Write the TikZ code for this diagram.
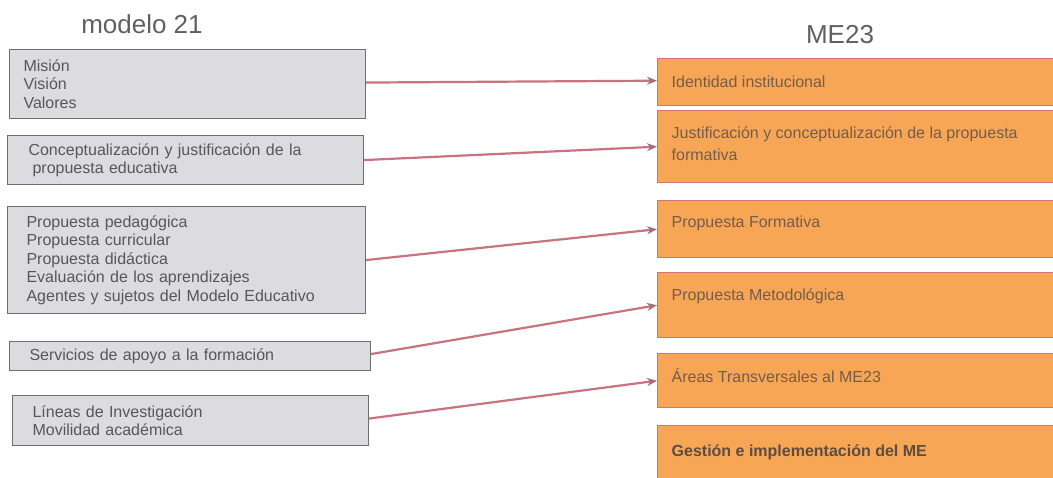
\documentclass[tikz,border=0pt]{standalone}
\usepackage{fontspec}
\setmainfont{Liberation Sans}
\usetikzlibrary{arrows.meta}
\definecolor{lfill}{HTML}{DCDCE0}
\definecolor{lborder}{HTML}{6E6E70}
\definecolor{ltext}{HTML}{55575D}
\definecolor{rfill}{HTML}{F7A656}
\definecolor{rborder}{HTML}{D8707A}
\definecolor{rtext}{HTML}{765C4A}
\definecolor{rbold}{HTML}{5E4C40}
\definecolor{arrowc}{HTML}{C9737F}
\definecolor{tipc}{HTML}{A26E7A}
\definecolor{titlec}{HTML}{606060}
\newcommand\rtxt[3]{\parbox[t][#1pt][t]{420pt}{\rule{0pt}{#2pt}#3}}
\begin{document}
\begin{tikzpicture}[x=1pt,y=-1pt,
  lbox/.style={draw=lborder, fill=lfill, line width=1.1pt, anchor=north west,
    inner ysep=0pt, align=left, text=ltext, font=\fontsize{16}{18.5}\selectfont},
  rbox/.style={draw=rborder, fill=rfill, line width=1.4pt, anchor=north west,
    inner xsep=14pt, inner ysep=0pt, text=rtext, font=\fontsize{16}{22}\selectfont},
  title/.style={anchor=base, text=titlec, font=\fontsize{26}{30}\selectfont, inner sep=0pt},
  conn/.style={draw=arrowc, line width=2.2pt, -{Stealth[length=10pt,width=8pt,color=tipc]}}]
\useasboundingbox (0,0) rectangle (1053,477);
\clip (0,0) rectangle (1053,477);
\fill[white] (0,0) rectangle (1053,477);
% titles
\node[title] (t1) at (142,33) {modelo 21};
\node[title] (t2) at (840,43) {ME23};
% left boxes
\node[lbox, inner xsep=14pt, text width=328pt, minimum height=69pt] (l1) at (9,49)
  {Misión\\Visión\\Valores};
\node[lbox, inner xsep=21pt, text width=314pt, minimum height=49pt] (l2) at (7,135)
  {Conceptualización y justificación de la\\\hspace*{4pt}propuesta educativa};
\node[lbox, inner xsep=19pt, text width=320pt, minimum height=107pt] (l3) at (7,206)
  {Propuesta pedagógica\\Propuesta curricular\\Propuesta didáctica\\Evaluación de los aprendizajes\\Agentes y sujetos del Modelo Educativo};
\node[lbox, inner xsep=20pt, text width=321pt, minimum height=29pt] (l4) at (9,341)
  {Servicios de apoyo a la formación};
\node[lbox, inner xsep=20pt, text width=316pt, minimum height=50pt] (l5) at (12,395)
  {Líneas de Investigación\\Movilidad académica};
% right boxes
\node[rbox] (r1) at (657,58) {\rtxt{47}{29}{Identidad institucional}};
\node[rbox] (r2) at (657,110) {\rtxt{72}{28}{Justificación y conceptualización de la propuesta\\formativa}};
\node[rbox] (r3) at (657,200) {\rtxt{57}{27}{Propuesta Formativa}};
\node[rbox] (r4) at (657,272) {\rtxt{65}{28}{Propuesta Metodológica}};
\node[rbox] (r5) at (657,353) {\rtxt{54}{29}{Áreas Transversales al ME23}};
\node[rbox] (r6) at (657,425) {\rtxt{60}{31}{\textcolor{rbold}{\textbf{Gestión e implementación del ME}}}};
% connectors
\draw[conn] ([yshift=1.5pt]l1.east) -- ([yshift=1.5pt]r1.west);
\draw[conn] (l2.east) -- (r2.west);
\draw[conn] (l3.east) -- (r3.west);
\draw[conn] ([yshift=2pt]l4.east) -- (r4.west);
\draw[conn] ([yshift=2pt]l5.east) -- (r5.west);
\end{tikzpicture}
\end{document}
